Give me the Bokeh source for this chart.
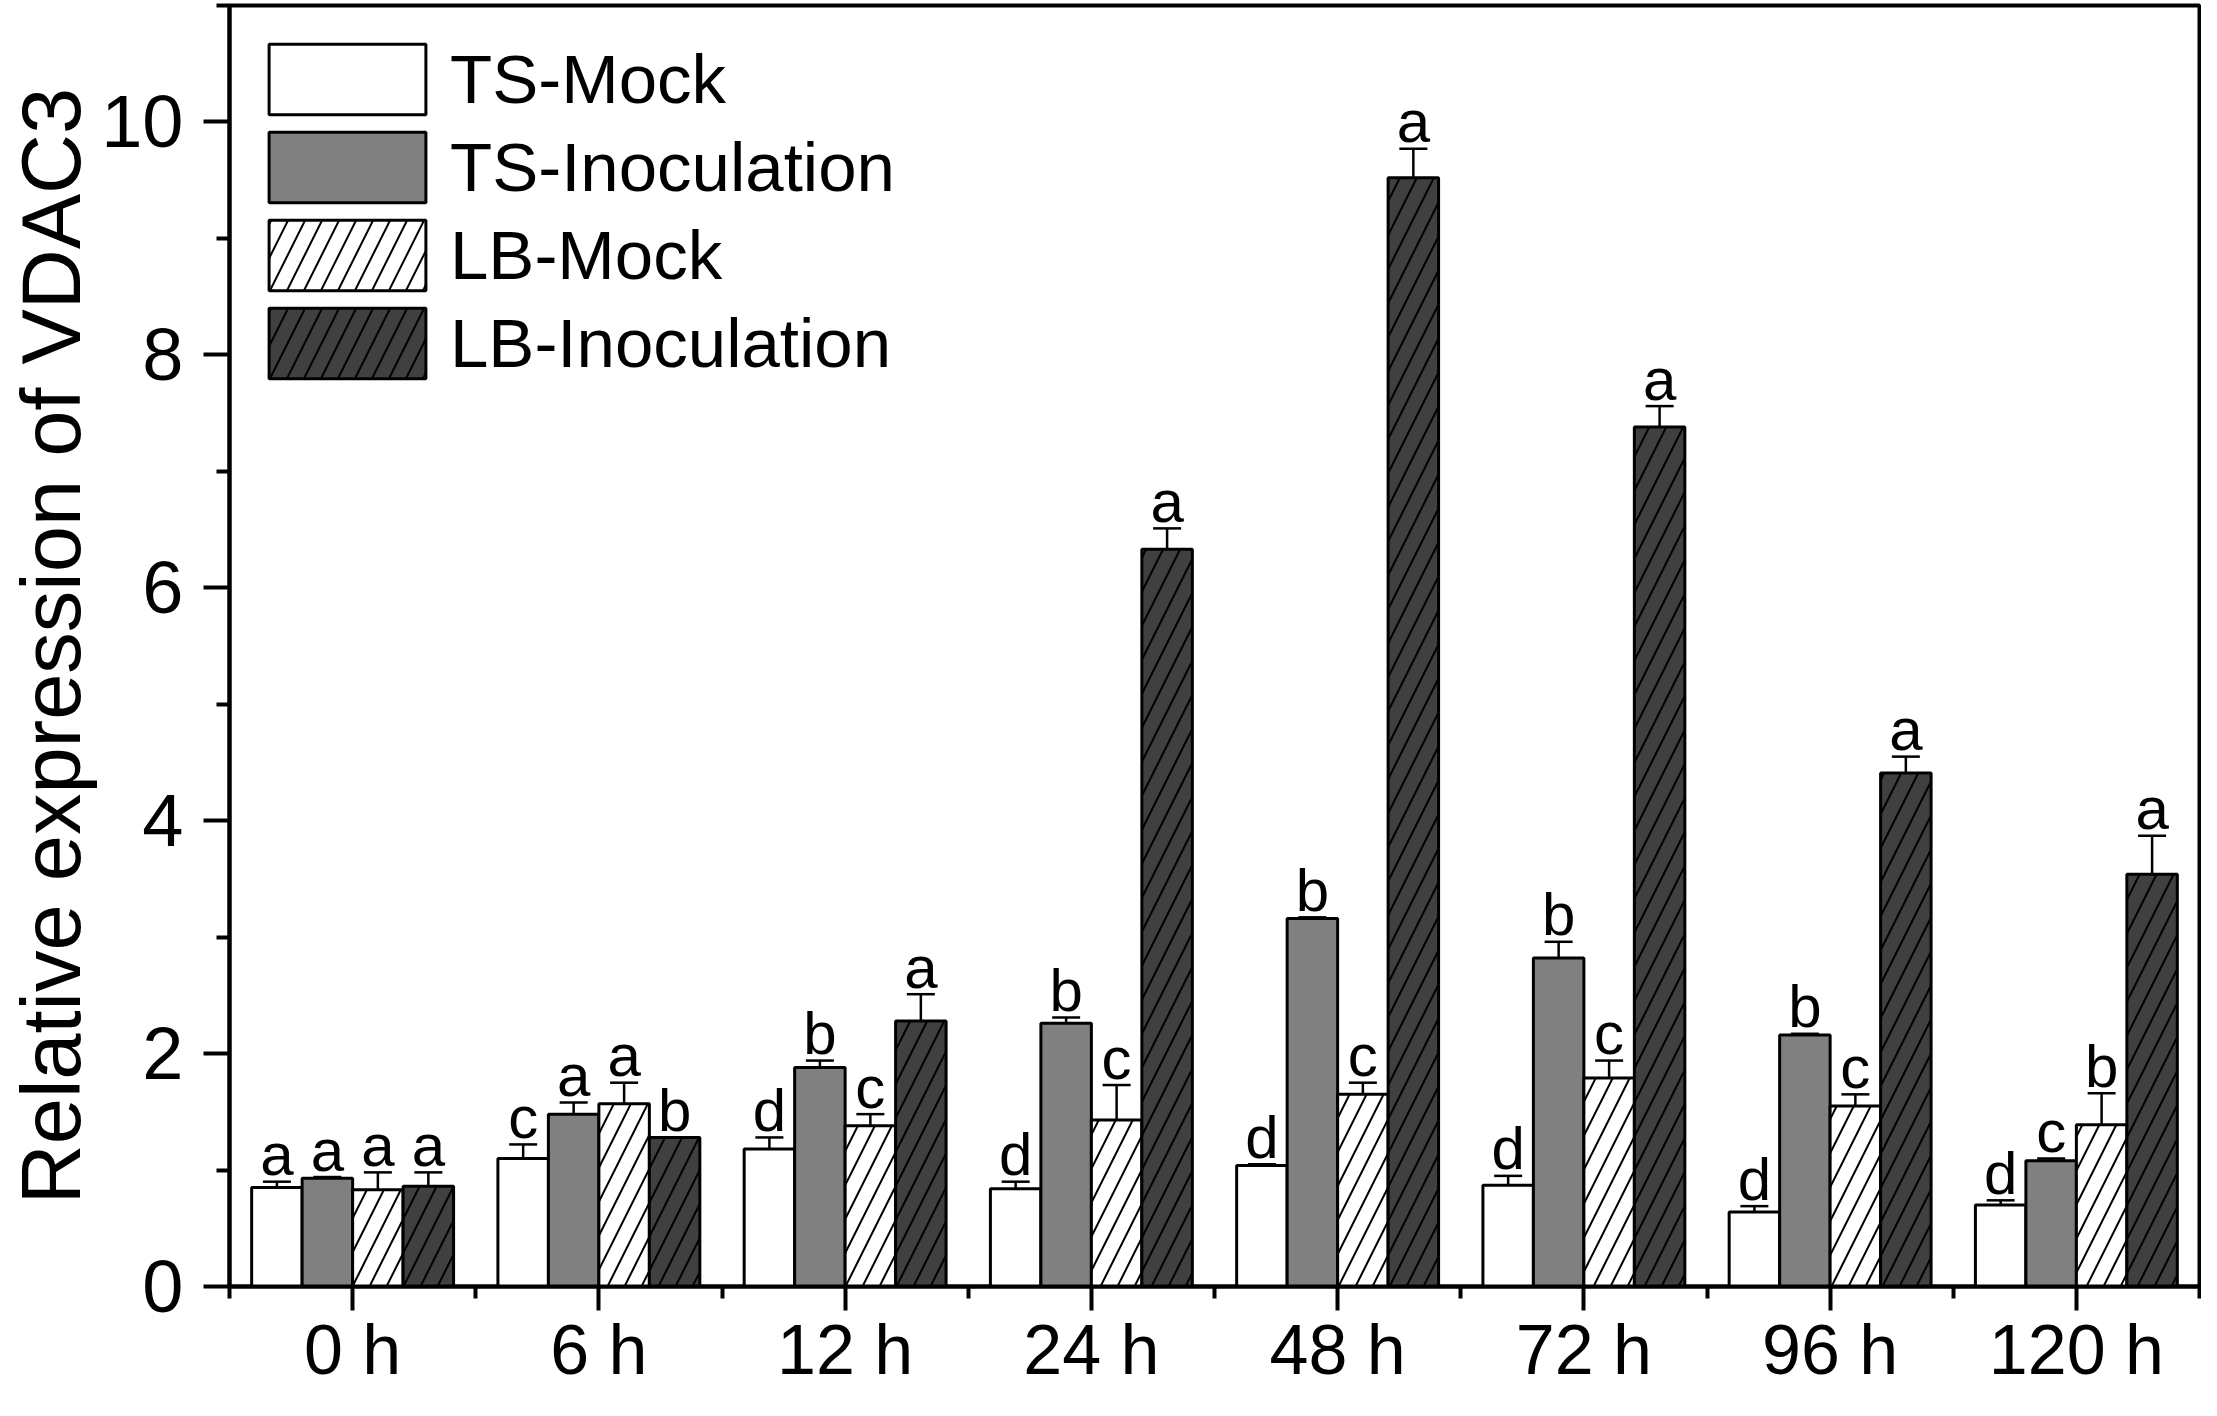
import numpy as np
from bokeh.plotting import figure
from bokeh.models import (ColumnDataSource, Range1d, FixedTicker, Whisker, TeeHead,
                          Legend, LegendItem)
from bokeh.core.properties import value
from bokeh.embed import file_html
from bokeh.resources import INLINE

# ---------------- data ----------------
times = ["0 h", "6 h", "12 h", "24 h", "48 h", "72 h", "96 h", "120 h"]
series = ["TS-Mock", "TS-Inoculation", "LB-Mock", "LB-Inoculation"]

ts_mock = [0.85, 1.10, 1.18, 0.84, 1.04, 0.87, 0.64, 0.70]
ts_mock_err = [0.05, 0.12, 0.10, 0.06, 0.01, 0.08, 0.05, 0.04]
ts_mock_sig = ["a", "c", "d", "d", "d", "d", "d", "d"]

ts_inoc = [0.93, 1.48, 1.88, 2.26, 3.16, 2.82, 2.16, 1.08]
ts_inoc_err = [0.01, 0.10, 0.06, 0.05, 0.01, 0.14, 0.01, 0.02]
ts_inoc_sig = ["a", "a", "b", "b", "b", "b", "b", "c"]

lb_mock = [0.83, 1.57, 1.38, 1.43, 1.65, 1.79, 1.55, 1.39]
lb_mock_err = [0.15, 0.18, 0.10, 0.30, 0.10, 0.15, 0.10, 0.27]
lb_mock_sig = ["a", "a", "c", "c", "c", "c", "c", "b"]

lb_inoc = [0.86, 1.28, 2.28, 6.33, 9.52, 7.38, 4.41, 3.54]
lb_inoc_err = [0.12, 0.00, 0.23, 0.18, 0.25, 0.18, 0.14, 0.33]
lb_inoc_sig = ["a", "b", "a", "a", "a", "a", "a", "a"]

y_ticks = [0, 2, 4, 6, 8, 10]
y_title = "Relative expression of VDAC3"

# ---------------- styles ----------------
FONT = "Liberation Sans"
fills = ["#ffffff", "#808080", "#ffffff", "#404040"]
hatches = [None, None, "right_diagonal_line", "right_diagonal_line"]
bar_w = 0.205
offsets = [-1.5 * bar_w, -0.5 * bar_w, 0.5 * bar_w, 1.5 * bar_w]

p = figure(width=2201, height=1400, output_backend="svg", toolbar_location=None,
           x_range=Range1d(-0.5, 7.5), y_range=Range1d(0, 11),
           min_border_left=229, min_border_right=2, min_border_top=5, min_border_bottom=114)
p.background_fill_color = "white"
p.border_fill_color = "white"
p.outline_line_color = "black"
p.outline_line_width = 4
p.xgrid.visible = False
p.ygrid.visible = False

data = [(ts_mock, ts_mock_err, ts_mock_sig), (ts_inoc, ts_inoc_err, ts_inoc_sig),
        (lb_mock, lb_mock_err, lb_mock_sig), (lb_inoc, lb_inoc_err, lb_inoc_sig)]

items = []
idx = np.arange(len(times))
for k, (vals, errs, sig) in enumerate(data):
    vals = np.array(vals)
    errs = np.array(errs)
    src = ColumnDataSource(dict(x=idx + offsets[k], top=vals, upper=vals + errs, sig=sig))
    kw = {}
    if hatches[k]:
        kw = dict(hatch_pattern=hatches[k], hatch_color="black", hatch_scale=34, hatch_weight=2)
    r = p.vbar(x="x", top="top", width=bar_w, source=src, fill_color=fills[k],
               line_color="black", line_width=3, **kw)
    items.append(LegendItem(label=series[k], renderers=[r]))
    wh = Whisker(base="x", lower="top", upper="upper", source=src, dimension="height",
                 line_color="black", line_width=2.5, lower_head=None,
                 upper_head=TeeHead(size=28, line_color="black", line_width=2.5))
    p.add_layout(wh)
    p.text(x="x", y="upper", text="sig", source=src, text_font=value(FONT),
           text_font_size="60px", text_align="center", text_baseline="alphabetic",
           y_offset=-27, text_color="black")

# ---------------- axes ----------------
p.xaxis.ticker = FixedTicker(ticks=list(range(len(times))),
                             minor_ticks=[i + 0.5 for i in range(-1, len(times))])
p.xaxis.major_label_overrides = {i: t for i, t in enumerate(times)}
p.yaxis.ticker = FixedTicker(ticks=y_ticks, minor_ticks=[1, 3, 5, 7, 9, 11])
p.yaxis.axis_label = y_title

for ax in (p.xaxis[0], p.yaxis[0]):
    ax.axis_line_color = "black"
    ax.axis_line_width = 4
    ax.major_tick_line_color = "black"
    ax.major_tick_line_width = 4
    ax.minor_tick_line_color = "black"
    ax.minor_tick_line_width = 4
    ax.major_tick_in = 0
    ax.minor_tick_in = 0
    ax.major_label_text_font = FONT
    ax.major_label_text_color = "black"
    ax.axis_label_text_font = FONT
    ax.axis_label_text_font_style = "normal"
    ax.axis_label_text_color = "black"

p.xaxis.major_tick_out = 24
p.xaxis.minor_tick_out = 12
p.xaxis.major_label_text_font_size = "70px"
p.xaxis.major_label_standoff = 0
p.yaxis.major_tick_out = 26
p.yaxis.minor_tick_out = 13
p.yaxis.major_label_text_font_size = "74px"
p.yaxis.major_label_standoff = 20
p.yaxis.axis_label_text_font_size = "83px"
p.yaxis.axis_label_standoff = 0

legend = Legend(items=items, location=(20, 899), margin=0, padding=0,
                border_line_alpha=0, background_fill_alpha=0,
                glyph_width=196, glyph_height=88, spacing=0, label_standoff=5,
                label_height=88, label_text_font=FONT, label_text_font_size="69px",
                label_text_color="black")
p.add_layout(legend, "center")

open("out.html", "w").write(file_html(p, INLINE))
